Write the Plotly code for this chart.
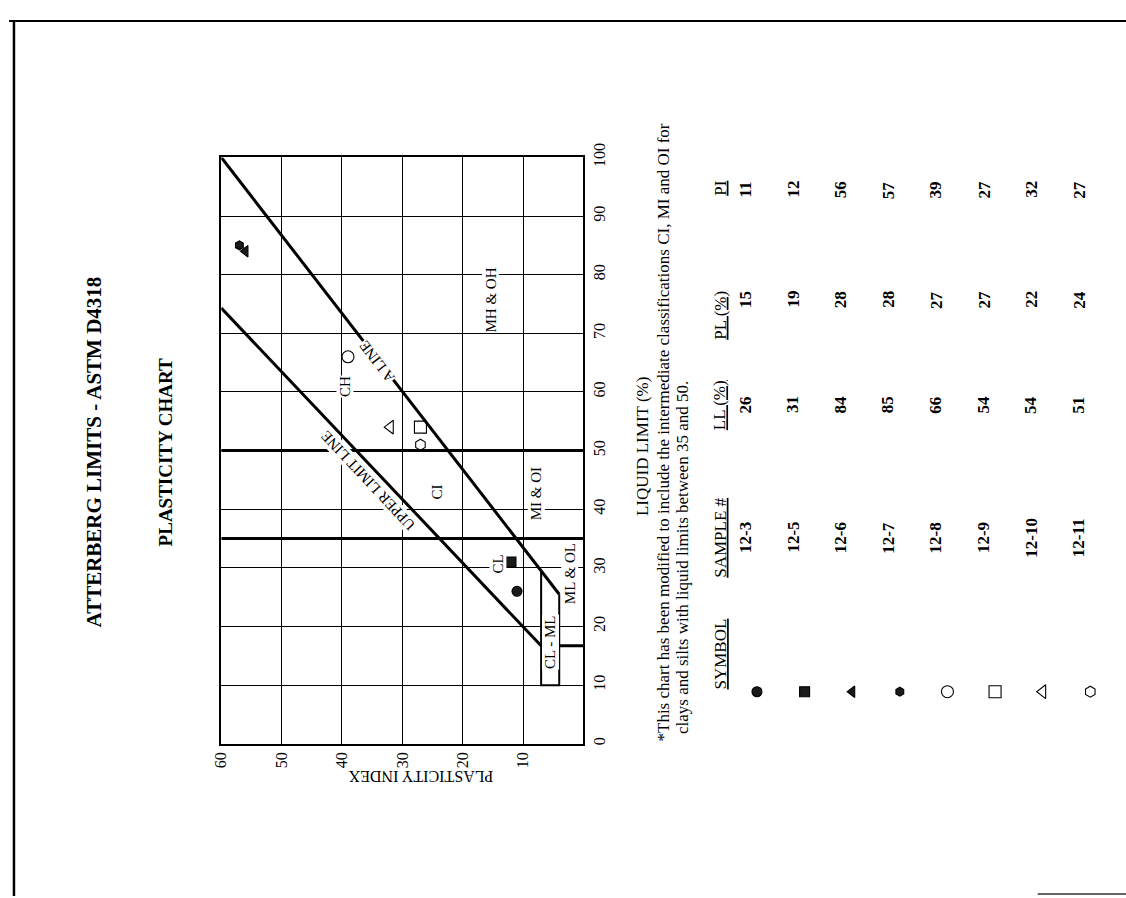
import math
import plotly.graph_objects as go

W, H = 1126, 898
SERIF = "Liberation Serif, Times New Roman, serif"

# ---- test results ----
SAMPLES = ["12-3", "12-5", "12-6", "12-7", "12-8", "12-9", "12-10", "12-11"]
LIQUID_LIMIT = [26, 31, 84, 85, 66, 54, 54, 51]
PLASTIC_LIMIT = [15, 19, 28, 28, 27, 27, 22, 24]
PLASTICITY_INDEX = [11, 12, 56, 57, 39, 27, 32, 27]
MARKERS = ["circle", "square", "triangle-left", "hexagon",
           "circle-open", "square-open", "triangle-left-open", "hexagon-open"]

# ---- classification boundaries (liquid limit, plasticity index) ----
A_LINE_LL = [25.5, 100]
A_LINE_PI = [4, 60]
U_LINE_LL = [16.7, 74.3]
U_LINE_PI = [7, 60]
U_FOOT_LL = [16.7, 16.7]
U_FOOT_PI = [4, 0]
CLML_LL = [29.5, 10, 10, 25.5]
CLML_PI = [7, 7, 4, 4]
DIVIDERS_LL = [35, 50]

# ---- zone labels ----
ZONE_TEXT = ["CH", "MH & OH", "CI", "MI & OI", "CL", "ML & OL", "CL - ML"]
ZONE_LL = [61, 75.6, 42.9, 42.6, 30.6, 29.0, 17.3]
ZONE_PI = [39.5, 15.3, 24.2, 7.8, 14.1, 2.3, 5.4]

# ---- page geometry (pixels) ----
PLOT_L, PLOT_R, PLOT_T, PLOT_B = 214, 579, 146, 743
PI_MAX, LL_MAX = 60, 100


def px(x):
    return x / W


def py(y):
    return 1 - y / H


def marker_style(sym):
    filled = not sym.endswith("open")
    size = {"circle": 10, "square": 10, "triangle-left": 10, "hexagon": 9,
            "circle-open": 12, "square-open": 12, "triangle-left-open": 12, "hexagon-open": 11}[sym]
    return dict(symbol=sym, size=size, color="#1a1a1a" if filled else "black",
                line=dict(color="black", width=1.1))


fig = go.Figure()

# boundary lines of the classification zones
line_style = dict(color="black", width=3)
fig.add_trace(go.Scatter(x=A_LINE_PI, y=A_LINE_LL, mode="lines", line=line_style, hoverinfo="skip"))
fig.add_trace(go.Scatter(x=U_LINE_PI, y=U_LINE_LL, mode="lines", line=line_style, hoverinfo="skip"))
fig.add_trace(go.Scatter(x=U_FOOT_PI, y=U_FOOT_LL, mode="lines", line=line_style, hoverinfo="skip"))
fig.add_trace(go.Scatter(x=CLML_PI, y=CLML_LL, mode="lines", line=dict(color="black", width=2), hoverinfo="skip"))
for ll in DIVIDERS_LL:
    fig.add_trace(go.Scatter(x=[0, PI_MAX], y=[ll, ll], mode="lines", line=line_style, hoverinfo="skip"))

# sample points
for i in range(len(SAMPLES)):
    fig.add_trace(go.Scatter(x=[PLASTICITY_INDEX[i]], y=[LIQUID_LIMIT[i]], mode="markers",
                             marker=marker_style(MARKERS[i]), hoverinfo="skip"))

# pixel scales used to align rotated labels with the boundary lines
sx = (PLOT_R - PLOT_L) / PI_MAX
sy = (PLOT_B - PLOT_T) / LL_MAX


def line_angle(ll, pi):
    dx = -(pi[1] - pi[0]) * sx
    dy = -(ll[1] - ll[0]) * sy
    return math.degrees(math.atan2(dy, dx))


annotations = []
lab_font = dict(family=SERIF, size=15, color="black")
for t, ll, pi in zip(ZONE_TEXT, ZONE_LL, ZONE_PI):
    annotations.append(dict(x=pi, y=ll, xref="x", yref="y", text=t, showarrow=False,
                            textangle=-90, font=lab_font, bgcolor="white", borderpad=0))
annotations.append(dict(x=34.1, y=65.2, xref="x", yref="y", text="A LINE", showarrow=False,
                        textangle=line_angle(A_LINE_LL, A_LINE_PI), font=lab_font,
                        bgcolor="white", borderpad=0))
annotations.append(dict(x=35.6, y=44.9, xref="x", yref="y", text="UPPER LIMIT LINE", showarrow=False,
                        textangle=line_angle(U_LINE_LL, U_LINE_PI), font=lab_font,
                        bgcolor="white", borderpad=0))

# titles
annotations.append(dict(x=px(72), y=py(446), xref="paper", yref="paper",
                        text="<b>ATTERBERG LIMITS - ASTM D4318</b>", showarrow=False, textangle=-90,
                        font=dict(family=SERIF, size=21, color="black")))
annotations.append(dict(x=px(145), y=py(446), xref="paper", yref="paper",
                        text="<b>PLASTICITY CHART</b>", showarrow=False, textangle=-90,
                        font=dict(family=SERIF, size=19, color="black")))
annotations.append(dict(x=px(415), y=py(787), xref="paper", yref="paper",
                        text="PLASTICITY INDEX", showarrow=False, textangle=180,
                        font=dict(family=SERIF, size=16, color="black")))
annotations.append(dict(x=px(638), y=py(440), xref="paper", yref="paper",
                        text="LIQUID LIMIT (%)", showarrow=False, textangle=-90,
                        font=dict(family=SERIF, size=17, color="black")))

# footnote
note_font = dict(family=SERIF, size=17, color="black")
annotations.append(dict(x=px(660), y=py(743), xref="paper", yref="paper", xanchor="center", yanchor="bottom",
                        text="*This chart has been modified to include the intermediate classifications CI, MI and OI for",
                        showarrow=False, textangle=-90, font=note_font))
annotations.append(dict(x=px(679), y=py(735), xref="paper", yref="paper", xanchor="center", yanchor="bottom",
                        text="clays and silts with liquid limits between 35 and 50.",
                        showarrow=False, textangle=-90, font=note_font))

# results table
ROW_X0, ROW_STEP, HEAD_X = 754, 48, 717
COL_Y = {"sym": 690, "sample": 533, "ll": 398, "pl": 280, "pi": 168}
head_font = dict(family=SERIF, size=17, color="black")
cell_font = dict(family=SERIF, size=17, color="black")
for key, t in [("sym", "SYMBOL"), ("sample", "SAMPLE #"), ("ll", "LL (%)"), ("pl", "PL (%)"), ("pi", "PI")]:
    annotations.append(dict(x=px(HEAD_X), y=py(COL_Y[key]), xref="paper", yref="paper",
                            text="<u>%s</u>" % t, showarrow=False, textangle=-90, font=head_font))
row_x = [ROW_X0 + ROW_STEP * i for i in range(len(SAMPLES))]
for i, s in enumerate(SAMPLES):
    for key, val in [("sample", s), ("ll", LIQUID_LIMIT[i]), ("pl", PLASTIC_LIMIT[i]), ("pi", PLASTICITY_INDEX[i])]:
        annotations.append(dict(x=px(row_x[i]), y=py(COL_Y[key]), xref="paper", yref="paper",
                                text="<b>%s</b>" % val, showarrow=False, textangle=-90, font=cell_font))

# table symbols on a full-page pixel axis pair
for i in range(len(SAMPLES)):
    fig.add_trace(go.Scatter(x=[row_x[i]], y=[COL_Y["sym"]], xaxis="x2", yaxis="y2", mode="markers",
                             marker=marker_style(MARKERS[i]), hoverinfo="skip", cliponaxis=False))

axis_common = dict(showgrid=True, gridcolor="black", gridwidth=1.3, showline=True, linecolor="black",
                   linewidth=2, mirror=True, zeroline=False, ticks="", tickangle=-90,
                   tickfont=dict(family=SERIF, size=16, color="black"))

fig.update_layout(
    width=W, height=H, margin=dict(l=0, r=0, t=0, b=0),
    paper_bgcolor="white", plot_bgcolor="rgba(0,0,0,0)", showlegend=False,
    xaxis=dict(range=[PI_MAX, 0], domain=[px(PLOT_L), px(PLOT_R)], tickvals=[10, 20, 30, 40, 50, 60],
               anchor="y", **axis_common),
    yaxis=dict(range=[0, LL_MAX], domain=[py(PLOT_B), py(PLOT_T)], side="right",
               tickvals=list(range(0, 101, 10)), anchor="x", **axis_common),
    xaxis2=dict(range=[0, W], domain=[0, 1], visible=False, anchor="y2"),
    yaxis2=dict(range=[H, 0], domain=[0, 1], visible=False, anchor="x2"),
    annotations=annotations,
    shapes=[
        dict(type="line", xref="paper", yref="paper", x0=0, x1=1, y0=py(7), y1=py(7),
             line=dict(color="black", width=2)),
        dict(type="line", xref="paper", yref="paper", x0=px(5), x1=px(5), y0=py(7), y1=0,
             line=dict(color="black", width=2.5)),
        dict(type="line", xref="paper", yref="paper", x0=px(1037), x1=1, y0=py(896), y1=py(896),
             line=dict(color="#666666", width=2)),
    ],
)

fig.write_html("out.html")
